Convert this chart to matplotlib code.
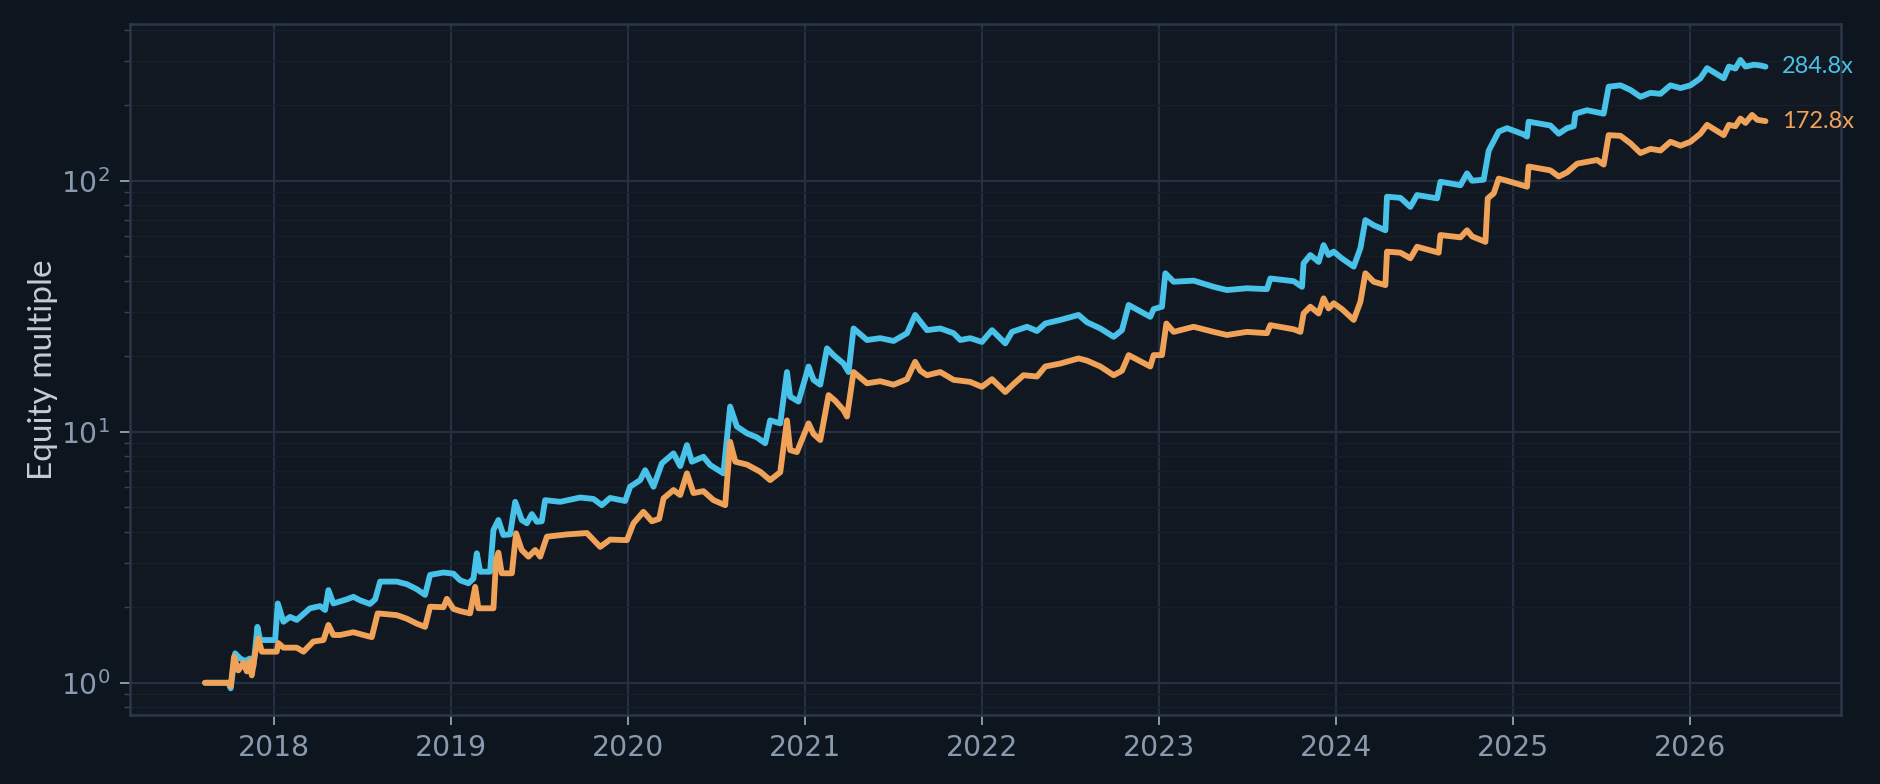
import matplotlib
matplotlib.use("Agg")
import matplotlib.pyplot as plt
from matplotlib.ticker import LogLocator, FixedLocator, FormatStrFormatter
import numpy as np

# time in decimal years, equity multiple
t_cyan = [2017.610, 2017.742, 2017.755, 2017.780, 2017.808, 2017.836, 2017.864, 2017.883,
          2017.906, 2017.921, 2018.006, 2018.021, 2018.053, 2018.090, 2018.128, 2018.203,
          2018.260, 2018.288, 2018.307, 2018.335, 2018.411, 2018.448, 2018.486, 2018.542,
          2018.571, 2018.599, 2018.693, 2018.750, 2018.806, 2018.853, 2018.881, 2018.957,
          2019.013, 2019.051, 2019.098, 2019.126, 2019.145, 2019.164, 2019.220, 2019.239,
          2019.267, 2019.295, 2019.333, 2019.362, 2019.399, 2019.428, 2019.456, 2019.484,
          2019.512, 2019.531, 2019.616, 2019.729, 2019.804, 2019.851, 2019.898, 2019.983,
          2020.011, 2020.068, 2020.096, 2020.143, 2020.190, 2020.256, 2020.294, 2020.332,
          2020.360, 2020.425, 2020.463, 2020.538, 2020.576, 2020.614, 2020.671, 2020.727,
          2020.774, 2020.802, 2020.859, 2020.897, 2020.915, 2020.962, 2021.019, 2021.047,
          2021.085, 2021.123, 2021.160, 2021.216, 2021.245, 2021.273, 2021.349, 2021.424,
          2021.499, 2021.575, 2021.621, 2021.688, 2021.763, 2021.838, 2021.876, 2021.932,
          2021.998, 2022.055, 2022.130, 2022.168, 2022.253, 2022.309, 2022.356, 2022.441,
          2022.544, 2022.592, 2022.667, 2022.742, 2022.789, 2022.827, 2022.949, 2022.968,
          2023.015, 2023.034, 2023.081, 2023.194, 2023.307, 2023.382, 2023.495, 2023.608,
          2023.627, 2023.759, 2023.806, 2023.815, 2023.853, 2023.900, 2023.928, 2023.956,
          2023.985, 2024.032, 2024.098, 2024.136, 2024.164, 2024.211, 2024.277, 2024.286,
          2024.362, 2024.418, 2024.456, 2024.569, 2024.588, 2024.701, 2024.738, 2024.767,
          2024.832, 2024.861, 2024.917, 2024.964, 2025.058, 2025.077, 2025.086, 2025.209,
          2025.256, 2025.303, 2025.341, 2025.350, 2025.416, 2025.510, 2025.538, 2025.605,
          2025.661, 2025.718, 2025.774, 2025.831, 2025.887, 2025.944, 2026.000, 2026.056,
          2026.094, 2026.188, 2026.217, 2026.254, 2026.282, 2026.311, 2026.358, 2026.395,
          2026.424]
v_cyan = [1.00, 1.00, 0.95, 1.31, 1.25, 1.22, 1.25, 1.16,
          1.67, 1.48, 1.48, 2.07, 1.75, 1.83, 1.78, 1.98,
          2.02, 1.95, 2.34, 2.07, 2.15, 2.20, 2.13, 2.06,
          2.15, 2.53, 2.53, 2.47, 2.36, 2.24, 2.69, 2.75,
          2.72, 2.56, 2.49, 2.60, 3.28, 2.77, 2.77, 4.06,
          4.45, 3.88, 3.90, 5.26, 4.45, 4.32, 4.70, 4.38,
          4.40, 5.34, 5.26, 5.47, 5.40, 5.10, 5.45, 5.30,
          6.04, 6.42, 7.03, 6.04, 7.48, 8.20, 7.30, 8.85,
          7.60, 7.95, 7.37, 6.83, 12.6, 10.5, 9.86, 9.50,
          9.00, 11.1, 10.8, 17.3, 13.8, 13.2, 18.2, 16.1,
          15.4, 21.5, 20.2, 18.7, 17.3, 25.8, 23.2, 23.6,
          23.0, 24.7, 29.2, 25.4, 25.8, 24.7, 23.2, 23.6,
          22.8, 25.4, 22.5, 25.0, 26.2, 25.2, 27.0, 27.9,
          29.2, 27.3, 25.8, 23.9, 25.4, 32.0, 28.7, 30.8,
          31.5, 42.8, 39.6, 40.0, 37.8, 36.7, 37.3, 37.0,
          40.8, 39.8, 37.8, 46.9, 50.6, 47.5, 55.4, 50.6,
          52.2, 49.0, 45.5, 53.9, 69.7, 66.5, 63.5, 86.4,
          85.5, 78.7, 87.7, 85.1, 99.1, 96.0, 107.0, 100.0,
          101.0, 132.0, 157.0, 162.0, 153.0, 150.0, 172.0, 166.0,
          154.0, 162.0, 165.0, 185.0, 191.0, 185.0, 237.0, 240.0,
          230.0, 216.0, 224.0, 222.0, 240.0, 234.0, 240.0, 256.0,
          281.0, 256.0, 285.0, 280.0, 303.0, 285.0, 290.0, 288.0,
          284.8]

t_orange = [2017.610, 2017.742, 2017.755, 2017.774, 2017.798, 2017.827, 2017.846, 2017.864,
            2017.874, 2017.893, 2017.911, 2017.931, 2018.015, 2018.024, 2018.053, 2018.128,
            2018.166, 2018.222, 2018.279, 2018.307, 2018.335, 2018.373, 2018.448, 2018.505,
            2018.552, 2018.585, 2018.693, 2018.750, 2018.806, 2018.853, 2018.881, 2018.957,
            2018.976, 2019.013, 2019.051, 2019.107, 2019.136, 2019.154, 2019.239, 2019.254,
            2019.267, 2019.286, 2019.343, 2019.367, 2019.399, 2019.437, 2019.475, 2019.503,
            2019.541, 2019.654, 2019.767, 2019.842, 2019.898, 2019.993, 2020.030, 2020.086,
            2020.134, 2020.175, 2020.200, 2020.256, 2020.294, 2020.332, 2020.369, 2020.425,
            2020.482, 2020.548, 2020.576, 2020.605, 2020.671, 2020.746, 2020.802, 2020.859,
            2020.897, 2020.915, 2020.953, 2021.019, 2021.047, 2021.085, 2021.132, 2021.169,
            2021.216, 2021.236, 2021.273, 2021.349, 2021.424, 2021.499, 2021.575, 2021.621,
            2021.650, 2021.688, 2021.763, 2021.838, 2021.932, 2021.998, 2022.055, 2022.083,
            2022.130, 2022.177, 2022.233, 2022.309, 2022.356, 2022.441, 2022.544, 2022.592,
            2022.667, 2022.742, 2022.789, 2022.827, 2022.949, 2022.968, 2023.015, 2023.040,
            2023.081, 2023.194, 2023.307, 2023.382, 2023.495, 2023.608, 2023.627, 2023.759,
            2023.797, 2023.815, 2023.853, 2023.900, 2023.928, 2023.956, 2023.985, 2024.032,
            2024.098, 2024.136, 2024.164, 2024.211, 2024.277, 2024.286, 2024.362, 2024.418,
            2024.456, 2024.578, 2024.588, 2024.701, 2024.738, 2024.767, 2024.842, 2024.855,
            2024.889, 2024.917, 2024.964, 2025.077, 2025.086, 2025.209, 2025.256, 2025.303,
            2025.360, 2025.473, 2025.510, 2025.538, 2025.605, 2025.661, 2025.718, 2025.774,
            2025.831, 2025.887, 2025.944, 2026.000, 2026.056, 2026.094, 2026.188, 2026.217,
            2026.254, 2026.282, 2026.311, 2026.348, 2026.377, 2026.424]
v_orange = [1.00, 1.00, 0.97, 1.27, 1.12, 1.20, 1.11, 1.22,
            1.07, 1.31, 1.50, 1.33, 1.33, 1.44, 1.38, 1.38,
            1.33, 1.46, 1.48, 1.70, 1.55, 1.55, 1.59, 1.55,
            1.52, 1.89, 1.86, 1.80, 1.72, 1.67, 2.01, 2.00,
            2.16, 1.97, 1.93, 1.89, 2.41, 1.98, 1.98, 3.08,
            3.30, 2.73, 2.73, 3.94, 3.38, 3.18, 3.38, 3.18,
            3.82, 3.90, 3.95, 3.48, 3.72, 3.70, 4.32, 4.80,
            4.40, 4.50, 5.43, 5.86, 5.60, 6.83, 5.70, 5.80,
            5.34, 5.10, 9.12, 7.60, 7.40, 6.93, 6.42, 6.90,
            11.1, 8.45, 8.30, 10.8, 9.80, 9.27, 14.0, 13.3,
            12.2, 11.5, 17.3, 15.6, 15.9, 15.4, 16.2, 19.0,
            17.5, 16.8, 17.3, 16.1, 15.8, 15.1, 16.2, 15.5,
            14.4, 15.5, 16.8, 16.6, 18.2, 18.7, 19.6, 19.2,
            18.2, 16.8, 17.5, 20.2, 18.2, 20.2, 20.2, 27.0,
            25.0, 26.2, 25.0, 24.3, 25.0, 24.7, 26.6, 25.6,
            25.0, 29.6, 31.5, 29.6, 34.0, 31.0, 32.5, 30.8,
            27.9, 33.0, 42.8, 39.6, 38.4, 52.2, 51.7, 49.1,
            54.6, 51.7, 60.8, 59.5, 63.5, 60.0, 57.1, 85.1,
            89.1, 102.0, 100.0, 94.7, 114.0, 110.0, 104.0, 108.0,
            117.0, 121.0, 116.0, 152.0, 151.0, 141.0, 129.0, 134.0,
            132.0, 143.0, 138.0, 143.0, 154.0, 167.0, 152.0, 167.0,
            165.0, 177.0, 170.0, 183.0, 175.0, 172.8]

years = list(range(2018, 2027))

CYAN = "#48c2e8"
ORANGE = "#f0a358"
FIG_BG = "#0d161f"
AX_BG = "#111822"

plt.rcParams["font.family"] = ["DejaVu Sans"]

fig = plt.figure(figsize=(9.405, 3.92), dpi=200, facecolor=FIG_BG)
ax = fig.add_axes([0.0689, 0.088, 0.9098, 0.8813])
ax.set_facecolor(AX_BG)

ax.plot(t_cyan, v_cyan, color=CYAN, lw=2.1, solid_joinstyle="round",
        solid_capstyle="round", zorder=3)
ax.plot(t_orange, v_orange, color=ORANGE, lw=2.1, solid_joinstyle="round",
        solid_capstyle="round", zorder=4)

ax.set_yscale("log")
ax.set_xlim(2017.184, 2026.850)
ax.set_ylim(0.744, 421)

ax.xaxis.set_major_locator(FixedLocator(years))
ax.xaxis.set_major_formatter(FormatStrFormatter("%d"))
ax.yaxis.set_major_locator(LogLocator(base=10))
ax.yaxis.set_minor_locator(LogLocator(base=10, subs=np.arange(2, 10)))

ax.grid(which="major", color="#243142", lw=0.8)
ax.grid(which="minor", axis="y", color="#161f2a", lw=0.5)
ax.set_axisbelow(True)

for s in ax.spines.values():
    s.set_color("#2b3748")
    s.set_linewidth(0.9)

ax.tick_params(axis="both", which="major", colors="#8a9aae", labelsize=10.2,
               length=3.5, width=0.7)
ax.tick_params(axis="y", which="minor", colors="#3a4657", length=2, width=0.5)

ax.set_ylabel("Equity multiple", color="#c3ccd7", fontsize=12,
              family=["Lato", "DejaVu Sans"], labelpad=1)

for t, v, c in [(t_cyan, v_cyan, CYAN), (t_orange, v_orange, ORANGE)]:
    ax.annotate(f"{v[-1]:.1f}x", xy=(t[-1], v[-1]), xytext=(6, 0),
                textcoords="offset points", color=c, fontsize=8.5,
                family=["Lato", "DejaVu Sans"], va="center", ha="left",
                annotation_clip=False)

fig.savefig("out.png", dpi=200, facecolor=FIG_BG)
